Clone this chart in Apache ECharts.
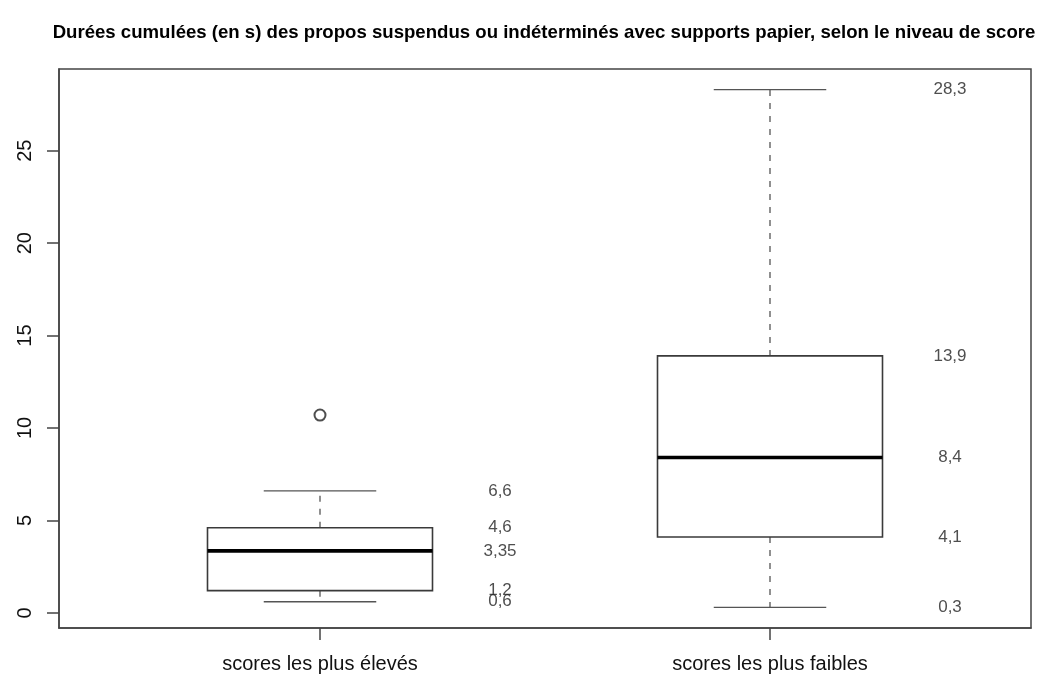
<!DOCTYPE html>
<html>
<head>
<meta charset="utf-8">
<title>Durées cumulées</title>
<script src="https://cdn.jsdelivr.net/npm/echarts@6/dist/echarts.min.js"></script>
<style>
  html, body { margin: 0; padding: 0; background: #fff; }
  #main { width: 1039px; height: 680px; }
</style>
</head>
<body>
<div id="main"></div>
<script>
var categories = ['scores les plus élevés', 'scores les plus faibles'];
var whiskerLow = [0.6, 0.3];
var q1 = [1.2, 4.1];
var median = [3.35, 8.4];
var q3 = [4.6, 13.9];
var whiskerHigh = [6.6, 28.3];
// outliers: [category position, value]
var outliers = [[1, 10.7]];
var yTicks = [0, 5, 10, 15, 20, 25];

var font = 'Liberation Sans, Arial, Helvetica, sans-serif';

var boxData = categories.map(function (c, i) {
    return [i + 1, whiskerLow[i], q1[i], median[i], q3[i], whiskerHigh[i]];
});

// value labels written next to each box
var labelData = [];
categories.forEach(function (c, i) {
    [whiskerLow, q1, median, q3, whiskerHigh].forEach(function (arr) {
        labelData.push([i + 1.4, arr[i]]);
    });
});

function fmt(v) {
    return String(v).replace('.', ',');
}

function renderBox(params, api) {
    var x = api.value(0);
    var half = 0.25, cap = 0.125;
    var p = function (dx, v) { return api.coord([x + dx, v]); };
    var dashed = { stroke: '#555', lineWidth: 1.3, lineDash: [6, 7] };
    var solid = { stroke: '#555', lineWidth: 1.3 };
    var lo = api.value(1), a = api.value(2), m = api.value(3), b = api.value(4), hi = api.value(5);
    var tl = p(-half, b), br = p(half, a);
    return {
        type: 'group',
        children: [
            { type: 'line', shape: { x1: p(0, b)[0], y1: p(0, b)[1], x2: p(0, hi)[0], y2: p(0, hi)[1] }, style: dashed },
            { type: 'line', shape: { x1: p(0, a)[0], y1: p(0, a)[1], x2: p(0, lo)[0], y2: p(0, lo)[1] }, style: dashed },
            { type: 'line', shape: { x1: p(-cap, hi)[0], y1: p(-cap, hi)[1], x2: p(cap, hi)[0], y2: p(cap, hi)[1] }, style: solid },
            { type: 'line', shape: { x1: p(-cap, lo)[0], y1: p(-cap, lo)[1], x2: p(cap, lo)[0], y2: p(cap, lo)[1] }, style: solid },
            { type: 'rect', shape: { x: tl[0], y: tl[1], width: br[0] - tl[0], height: br[1] - tl[1] },
              style: { fill: '#fff', stroke: '#3a3a3a', lineWidth: 1.6 } },
            { type: 'line', shape: { x1: p(-half, m)[0], y1: p(-half, m)[1], x2: p(half, m)[0], y2: p(half, m)[1] },
              style: { stroke: '#000', lineWidth: 3.6 } }
        ]
    };
}

var option = {
    animation: false,
    backgroundColor: '#fff',
    title: {
        text: 'Durées cumulées (en s) des propos suspendus ou indéterminés avec supports papier, selon le niveau de score',
        left: 539,
        textAlign: 'center',
        top: 18,
        textStyle: { fontFamily: font, fontSize: 18.6, fontWeight: 'bold', color: '#000' }
    },
    grid: {
        left: 59, right: 8, top: 69, bottom: 52,
        show: true, borderColor: '#444', borderWidth: 1.5,
        outerBoundsMode: 'none'
    },
    xAxis: {
        type: 'value',
        min: 0.42,
        max: 2.58,
        splitLine: { show: false },
        axisLine: { show: true, onZero: false, lineStyle: { color: '#444', width: 1.5 } },
        axisTick: { customValues: [1, 2], length: 12, lineStyle: { color: '#444', width: 1.5 } },
        axisLabel: {
            customValues: [1, 2],
            formatter: function (v) { return categories[Math.round(v) - 1]; },
            fontFamily: font, fontSize: 20, color: '#111', margin: 26
        }
    },
    yAxis: {
        type: 'value',
        min: -0.82,
        max: 29.42,
        splitLine: { show: false },
        axisLine: { show: true, onZero: false, lineStyle: { color: '#444', width: 1.5 } },
        axisTick: { customValues: yTicks, length: 12, lineStyle: { color: '#444', width: 1.5 } },
        axisLabel: {
            customValues: yTicks,
            rotate: 90,
            fontFamily: font, fontSize: 20, color: '#111', margin: 24
        }
    },
    series: [
        {
            type: 'custom',
            renderItem: renderBox,
            data: boxData,
            encode: { x: 0, y: [1, 2, 3, 4, 5] },
            z: 2
        },
        {
            type: 'scatter',
            data: outliers,
            symbol: 'emptyCircle',
            symbolSize: 11,
            itemStyle: { color: '#222', borderWidth: 1.6 },
            z: 3
        },
        {
            type: 'scatter',
            data: labelData,
            symbolSize: 0,
            silent: true,
            label: {
                show: true,
                position: 'inside',
                formatter: function (p) { return fmt(p.value[1]); },
                fontFamily: font, fontSize: 17, color: '#222'
            },
            z: 4
        }
    ]
};

var myChart = echarts.init(document.getElementById('main'));
myChart.setOption(option);
</script>
</body>
</html>
